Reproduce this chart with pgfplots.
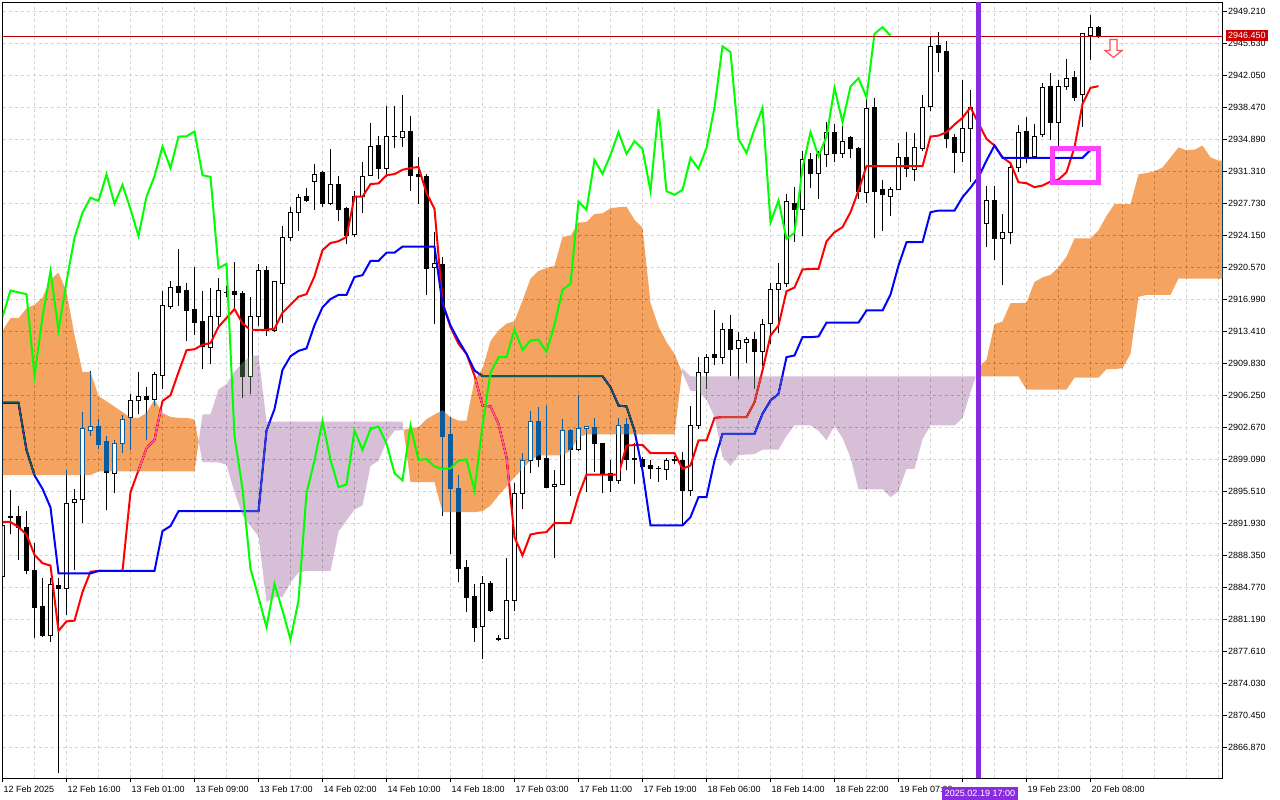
\documentclass[border=0pt]{standalone}
\usepackage{fontspec}
\setmainfont{Liberation Sans}
\usepackage{pgfplots}
\usepackage{pgfplotstable}
\pgfplotsset{compat=1.18}
\definecolor{tenkan}{RGB}{255,0,0}
\definecolor{kijun}{RGB}{0,0,255}
\definecolor{chikou}{RGB}{0,255,0}
\definecolor{cloudA}{RGB}{11,91,159}
\definecolor{cloudB}{RGB}{39,64,39}
\definecolor{gridc}{RGB}{212,212,212}
\definecolor{vline}{RGB}{138,43,226}
\definecolor{pline}{RGB}{192,0,0}
\definecolor{pbox}{RGB}{204,0,0}
\definecolor{boxm}{RGB}{255,64,255}
\definecolor{arrowc}{RGB}{255,80,80}
\newcommand\lbl{\fontsize{9}{10}\selectfont}
\pgfplotsset{candle/.style={only marks, mark=none, mark size=0pt, mark options={draw=none,fill=none}, forget plot,
  error bars/.cd, y dir=plus, y explicit, error mark=none}}

\pgfplotstableread{
x o h l c
0 2885.97 2892.30 2885.50 2891.65
1 2892.60 2895.69 2890.70 2892.70
2 2892.70 2893.92 2887.86 2891.53
3 2891.53 2893.35 2886.24 2886.62
4 2886.62 2889.75 2879.09 2882.57
5 2882.65 2885.86 2879.24 2879.43
6 2879.43 2885.78 2878.67 2885.10
7 2884.99 2885.78 2864.00 2884.61
8 2884.65 2897.96 2881.74 2894.22
9 2894.29 2895.81 2886.73 2894.56
10 2894.56 2904.43 2892.02 2902.54
11 2902.39 2909.04 2901.74 2902.73
12 2902.77 2903.67 2900.23 2900.80
13 2901.10 2901.71 2893.42 2897.62
14 2897.54 2901.29 2895.31 2900.84
15 2900.84 2904.05 2899.85 2903.56
16 2903.75 2906.47 2900.16 2905.64
17 2905.64 2908.93 2904.20 2906.09
18 2906.13 2907.23 2901.22 2905.83
19 2905.83 2908.93 2905.07 2908.55
20 2908.51 2917.89 2906.96 2916.31
21 2916.23 2919.07 2915.97 2918.31
22 2918.42 2922.66 2916.23 2917.82
23 2918.01 2918.80 2912.34 2915.74
24 2915.85 2920.60 2913.00 2914.45
25 2914.52 2917.92 2909.20 2911.72
26 2911.60 2918.31 2909.72 2915.04
27 2915.12 2919.39 2913.92 2918.00
28 2917.75 2918.50 2917.30 2917.79
29 2917.91 2921.19 2915.92 2917.59
30 2917.71 2917.95 2905.93 2908.40
31 2908.40 2917.32 2906.41 2915.04
32 2915.04 2920.91 2914.00 2920.19
33 2920.19 2920.79 2912.92 2913.52
34 2913.52 2919.11 2913.32 2918.99
35 2918.83 2925.19 2914.32 2923.91
36 2923.91 2927.30 2923.50 2926.70
37 2926.70 2928.78 2924.71 2928.38
38 2928.50 2929.50 2927.90 2928.02
39 2930.18 2932.18 2927.02 2930.98
40 2931.18 2931.38 2927.30 2927.70
41 2927.70 2933.78 2927.60 2929.82
42 2929.82 2930.78 2925.79 2927.10
43 2927.18 2927.30 2923.23 2924.11
44 2924.23 2929.10 2924.00 2928.50
45 2928.50 2932.38 2926.70 2930.78
46 2930.90 2936.77 2930.80 2934.10
47 2934.22 2935.30 2930.50 2931.70
48 2931.70 2938.69 2930.70 2935.22
49 2935.18 2938.69 2933.90 2935.25
50 2935.10 2939.89 2934.10 2935.78
51 2935.78 2937.49 2929.18 2930.90
52 2930.98 2932.98 2927.70 2930.70
53 2930.70 2931.00 2917.44 2920.49
54 2920.61 2924.50 2914.27 2920.98
55 2920.87 2921.72 2892.82 2901.70
56 2901.88 2903.82 2888.53 2895.81
57 2895.81 2897.41 2885.36 2886.86
58 2886.97 2887.86 2882.01 2883.69
59 2883.76 2885.18 2878.65 2880.33
60 2880.44 2886.11 2876.79 2885.18
61 2885.18 2885.55 2882.01 2882.19
62 2879.02 2879.47 2878.77 2878.95
63 2879.02 2888.05 2879.00 2883.31
64 2883.31 2896.44 2882.19 2895.32
65 2895.32 2899.80 2893.57 2898.98
66 2898.98 2904.50 2897.56 2903.38
67 2903.38 2904.94 2898.23 2899.05
68 2899.17 2905.02 2896.00 2896.00
69 2896.07 2897.86 2888.05 2896.29
70 2896.29 2903.64 2896.20 2902.33
71 2902.33 2902.52 2895.06 2900.17
72 2900.17 2906.36 2900.09 2902.52
73 2902.52 2902.89 2895.43 2902.78
74 2902.63 2903.75 2897.67 2900.84
75 2900.84 2900.92 2895.32 2897.56
76 2897.56 2898.98 2895.43 2896.74
77 2896.74 2903.75 2896.37 2902.89
78 2903.00 2903.75 2897.86 2899.05
79 2899.17 2900.90 2896.37 2899.13
80 2899.05 2899.35 2897.86 2898.31
81 2898.42 2899.05 2896.93 2898.05
82 2898.05 2898.31 2896.56 2898.09
83 2897.94 2899.24 2896.82 2898.98
84 2899.02 2899.43 2898.61 2899.09
85 2898.98 2899.91 2891.71 2895.62
86 2895.62 2905.02 2895.06 2902.89
87 2902.89 2910.61 2902.52 2908.79
88 2908.79 2910.84 2906.99 2910.54
89 2910.84 2915.76 2909.61 2910.54
90 2910.54 2914.34 2909.79 2913.60
91 2913.60 2915.27 2908.41 2911.36
92 2911.47 2913.34 2908.12 2912.40
93 2912.22 2912.85 2909.87 2912.48
94 2912.48 2913.34 2907.00 2911.17
95 2911.21 2914.83 2909.50 2914.16
96 2914.27 2918.82 2911.96 2918.07
97 2918.07 2921.09 2913.22 2918.74
98 2918.74 2928.81 2918.37 2927.95
99 2927.69 2929.63 2923.40 2927.02
100 2927.02 2933.66 2924.15 2932.61
101 2932.61 2933.36 2929.44 2931.05
102 2931.05 2933.66 2928.25 2933.17
103 2933.17 2936.90 2931.79 2935.71
104 2935.63 2936.64 2932.35 2933.28
105 2933.28 2936.45 2932.84 2934.70
106 2935.07 2935.26 2932.84 2933.84
107 2933.92 2934.03 2928.25 2929.11
108 2928.99 2939.62 2927.76 2938.32
109 2938.43 2939.55 2923.89 2929.11
110 2929.26 2930.37 2924.63 2928.70
111 2928.55 2929.55 2926.38 2929.26
112 2929.26 2934.48 2929.20 2932.84
113 2932.84 2935.78 2930.67 2931.61
114 2931.49 2935.59 2930.23 2933.95
115 2933.92 2939.92 2933.58 2938.50
116 2938.58 2946.52 2938.06 2945.33
117 2945.40 2946.97 2942.42 2944.66
118 2944.73 2945.96 2933.92 2934.96
119 2935.07 2935.50 2931.12 2933.39
120 2933.39 2941.56 2932.43 2936.08
121 2936.12 2940.48 2930.11 2938.43
122 2938.40 2939.80 2924.80 2925.60
123 2925.53 2929.74 2922.84 2928.07
124 2928.07 2929.74 2921.43 2923.78
125 2923.78 2926.57 2918.56 2924.45
126 2924.45 2932.17 2923.22 2931.72
127 2931.72 2936.46 2931.23 2935.71
128 2935.78 2937.46 2932.24 2933.02
129 2933.02 2936.64 2932.91 2935.22
130 2935.41 2941.19 2935.20 2940.67
131 2940.82 2942.31 2934.78 2936.83
132 2936.83 2941.56 2933.66 2940.82
133 2940.82 2943.91 2940.45 2941.75
134 2941.79 2942.50 2939.25 2939.63
135 2939.89 2946.80 2936.34 2946.71
136 2946.52 2948.84 2943.80 2947.46
137 2947.46 2947.64 2946.26 2946.52
}\candles

\pgfplotstableread{
x o c
10 2894.56 2902.54
11 2902.39 2902.73
14 2897.54 2900.84
15 2900.84 2903.56
16 2903.75 2905.64
17 2905.64 2906.09
19 2905.83 2908.55
31 2908.40 2915.04
65 2895.32 2898.98
66 2898.98 2903.38
70 2896.29 2902.33
72 2900.17 2902.52
73 2902.52 2902.78
77 2896.74 2902.89
87 2902.89 2908.79
}\incloud

\pgfplotstableread{
x t k
0 2892.10 2905.45
1 2892.10 2905.45
2 2891.53 2905.45
3 2890.70 2900.16
4 2888.43 2897.32
5 2887.49 2895.81
6 2887.22 2893.73
7 2879.92 2886.35
8 2880.98 2886.35
9 2881.06 2886.35
10 2884.27 2886.35
11 2886.54 2886.35
12 2886.62 2886.62
13 2886.62 2886.62
14 2886.62 2886.62
15 2886.62 2886.62
16 2895.43 2886.62
17 2897.89 2886.62
18 2900.35 2886.62
19 2901.29 2886.62
20 2905.64 2891.08
21 2906.28 2891.65
22 2908.86 2893.30
23 2911.31 2893.30
24 2911.43 2893.30
25 2911.92 2893.30
26 2912.12 2893.30
27 2913.92 2893.30
28 2914.92 2893.30
29 2915.92 2893.30
30 2914.32 2893.30
31 2913.60 2893.30
32 2913.60 2893.30
33 2913.60 2902.33
34 2913.72 2904.73
35 2915.52 2909.12
36 2916.40 2910.64
37 2917.31 2911.24
38 2917.59 2911.52
39 2919.59 2914.12
40 2922.51 2916.12
41 2923.31 2917.04
42 2923.51 2917.51
43 2923.99 2917.51
44 2928.50 2919.51
45 2928.50 2919.71
46 2929.90 2921.31
47 2929.98 2921.31
48 2930.90 2922.23
49 2931.02 2922.23
50 2931.50 2922.91
51 2931.70 2922.91
52 2931.82 2922.91
53 2928.90 2922.91
54 2927.13 2922.91
55 2916.69 2916.50
56 2913.89 2914.08
57 2912.03 2912.40
58 2910.91 2910.91
59 2908.49 2909.05
60 2905.13 2908.41
61 2905.02 2908.41
62 2903.08 2908.41
63 2899.35 2908.41
64 2890.40 2908.41
65 2888.35 2908.41
66 2890.70 2908.41
67 2890.88 2908.41
68 2890.96 2908.41
69 2891.97 2908.41
70 2891.97 2908.41
71 2891.97 2908.41
72 2895.06 2908.41
73 2897.41 2908.41
74 2897.41 2908.41
75 2897.41 2908.41
76 2897.41 2907.18
77 2897.41 2905.13
78 2900.65 2905.02
79 2900.70 2902.30
80 2900.73 2897.86
81 2899.80 2891.71
82 2899.80 2891.71
83 2899.80 2891.71
84 2899.80 2891.71
85 2898.05 2891.71
86 2898.42 2892.64
87 2901.22 2894.88
88 2901.22 2894.88
89 2903.75 2898.98
90 2903.83 2901.96
91 2903.83 2901.96
92 2903.83 2901.96
93 2903.83 2901.96
94 2905.50 2901.96
95 2909.05 2904.20
96 2912.96 2905.69
97 2914.08 2906.44
98 2917.92 2910.54
99 2918.33 2910.73
100 2920.36 2912.78
101 2920.40 2912.78
102 2920.42 2912.85
103 2923.50 2914.40
104 2924.52 2914.40
105 2925.08 2914.40
106 2926.76 2914.40
107 2929.18 2914.40
108 2931.90 2915.76
109 2931.90 2915.76
110 2931.90 2915.76
111 2931.90 2917.55
112 2931.90 2920.79
113 2931.90 2923.40
114 2931.90 2923.40
115 2931.90 2923.40
116 2935.22 2926.76
117 2935.33 2926.94
118 2935.71 2926.94
119 2936.57 2926.94
120 2937.31 2928.44
121 2938.50 2929.50
122 2936.70 2930.68
123 2934.96 2932.54
124 2934.22 2934.22
125 2932.91 2932.84
126 2932.24 2932.84
127 2930.11 2932.84
128 2930.00 2932.84
129 2929.56 2932.84
130 2929.74 2932.84
131 2930.19 2932.84
132 2930.41 2932.84
133 2931.23 2932.84
134 2934.03 2932.84
135 2938.88 2932.84
136 2940.67 2933.73
137 2940.86 2933.73
}\tkdata

\pgfplotstableread{
x g
0 2915.04
1 2918.00
2 2917.79
3 2917.59
4 2908.40
5 2915.04
6 2920.19
7 2913.52
8 2918.99
9 2923.91
10 2926.70
11 2928.38
12 2928.02
13 2930.98
14 2927.70
15 2929.82
16 2927.10
17 2924.11
18 2928.50
19 2930.78
20 2934.10
21 2931.70
22 2935.22
23 2935.25
24 2935.78
25 2930.90
26 2930.70
27 2920.49
28 2920.98
29 2901.70
30 2895.81
31 2886.86
32 2883.69
33 2880.33
34 2885.18
35 2882.19
36 2878.95
37 2883.31
38 2895.32
39 2898.98
40 2903.38
41 2899.05
42 2896.00
43 2896.29
44 2902.33
45 2900.17
46 2902.52
47 2902.78
48 2900.84
49 2897.56
50 2896.74
51 2902.89
52 2899.05
53 2899.13
54 2898.31
55 2898.05
56 2898.09
57 2898.98
58 2899.09
59 2895.62
60 2902.89
61 2908.79
62 2910.54
63 2910.54
64 2913.60
65 2911.36
66 2912.40
67 2912.48
68 2911.17
69 2914.16
70 2918.07
71 2918.74
72 2927.95
73 2927.02
74 2932.61
75 2931.05
76 2933.17
77 2935.71
78 2933.28
79 2934.70
80 2933.84
81 2929.11
82 2938.32
83 2929.11
84 2928.70
85 2929.26
86 2932.84
87 2931.61
88 2933.95
89 2938.50
90 2945.33
91 2944.66
92 2934.96
93 2933.39
94 2936.08
95 2938.43
96 2925.60
97 2928.07
98 2923.78
99 2924.45
100 2931.72
101 2935.71
102 2933.02
103 2935.22
104 2940.67
105 2936.83
106 2940.82
107 2941.75
108 2939.63
109 2946.71
110 2947.46
111 2946.52
}\chikoudata

% cloud polygons: upper edge left to right, then lower edge right to left
\pgfplotstableread{
x y
0 2913.50
1 2914.90
2 2914.90
3 2916.00
4 2916.40
5 2917.20
6 2919.20
7 2920.00
8 2917.90
9 2913.00
10 2908.90
11 2908.90
12 2906.20
13 2905.60
14 2905.00
15 2904.40
16 2903.75
17 2903.75
18 2904.30
19 2905.80
20 2904.30
21 2903.86
22 2903.75
23 2903.75
24 2903.56
24.52 2901.08
24 2897.75
12 2897.75
11 2897.35
0 2897.35
}\cloudone

\pgfplotstableread{
x y
24.52 2901.08
25 2904.13
26 2904.13
27 2906.93
28 2907.52
29 2908.92
30 2909.92
31 2910.72
32 2910.72
33 2903.33
50 2903.33
50.14 2902.39
50 2902.37
49 2902.31
48 2901.08
47 2898.97
46 2898.36
45 2893.96
44 2893.49
43 2892.26
42 2891.03
41 2886.62
38 2886.62
37 2886.45
36 2885.31
35 2883.71
34 2883.67
33 2883.14
32 2890.48
31 2891.65
30 2892.88
29 2895.43
28 2898.49
27 2898.78
26 2898.78
25 2898.80
}\cloudtwo

\pgfplotstableread{
x y
50.14 2902.39
51 2902.61
52 2902.71
53 2903.61
54 2904.11
55 2904.61
56 2903.81
57 2903.45
58 2903.45
59 2907.97
60 2909.23
61 2912.32
62 2913.52
63 2914.28
64 2914.56
65 2916.86
66 2919.32
67 2920.18
68 2920.51
69 2920.75
70 2924.01
71 2924.11
72 2925.61
73 2925.65
74 2926.57
75 2926.63
76 2927.21
77 2927.31
78 2927.37
79 2925.91
80 2925.02
81 2916.60
82 2913.99
83 2912.22
84 2910.91
84.94 2908.88
84 2901.90
73 2901.90
72 2901.59
71 2900.09
70 2899.54
67 2899.54
66 2898.98
65 2898.04
64 2897.11
63 2896.07
62 2895.06
61 2893.94
60 2893.31
59 2893.20
55 2893.20
54 2896.55
51 2896.55
}\cloudthree

\pgfplotstableread{
x y
84.94 2908.88
85 2909.30
86 2908.38
121 2908.38
121.65 2908.38
121 2906.63
120 2903.73
119 2902.90
116 2902.90
115 2901.37
114 2898.05
113 2898.05
112 2895.53
111 2894.88
110 2895.76
107 2895.76
106 2899.30
105 2901.50
104 2902.84
103 2901.27
102 2902.30
101 2902.91
99 2902.91
98 2901.74
97 2900.19
95 2900.19
94 2899.69
93 2899.65
92 2899.56
91 2898.38
90 2899.41
89 2903.88
88 2905.75
87 2906.72
86 2906.77
85 2908.77
}\cloudfour

\pgfplotstableread{
x y
121.65 2908.38
122 2909.33
123 2910.26
124 2914.23
125 2914.53
126 2916.57
127 2916.59
128 2916.64
129 2918.95
130 2919.46
131 2919.74
132 2920.58
133 2921.79
134 2923.83
136 2923.83
137 2924.73
138 2926.35
139 2927.65
141 2927.65
142 2930.99
143 2931.14
144 2931.33
145 2931.76
146 2932.88
147 2934.00
148 2933.69
149 2933.75
150 2934.22
151 2932.88
152 2932.54
153 2932.50
153 2919.34
147 2919.34
146 2917.51
143 2917.51
142 2917.29
141 2910.90
140 2909.30
139 2909.20
138 2909.20
137 2908.25
134 2908.25
133 2906.90
128 2906.90
127 2908.38
122 2908.38
}\cloudfive

\begin{document}
\begin{tikzpicture}[x=1pt,y=1pt]
\fill[white] (0,0) rectangle (1280,800);
\begin{axis}[
  at={(2.5pt,21.5pt)}, anchor=south west,
  scale only axis, width=1220pt, height=776pt,
  xmin=0, xmax=152.5, ymin=2863.40, ymax=2950.22,
  axis line style={line width=1pt, black},
  xtick={0,8,...,136},
  xticklabels={12 Feb 2025,12 Feb 16:00,13 Feb 01:00,13 Feb 09:00,13 Feb 17:00,14 Feb 02:00,14 Feb 10:00,14 Feb 18:00,17 Feb 03:00,17 Feb 11:00,17 Feb 19:00,18 Feb 06:00,18 Feb 14:00,18 Feb 22:00,19 Feb 07:00,{},19 Feb 23:00,20 Feb 08:00},
  minor xtick={4,12,...,148,144,152},
  ytick={2866.87,2870.45,2874.03,2877.61,2881.19,2884.77,2888.35,2891.93,2895.51,2899.09,2902.67,2906.25,2909.83,2913.41,2916.99,2920.57,2924.15,2927.73,2931.31,2934.89,2938.47,2942.05,2945.63,2949.21},
  yticklabels={2866.870,2870.450,2874.030,2877.610,2881.190,2884.770,2888.350,2891.930,2895.510,2899.090,2902.670,2906.250,2909.830,2913.410,2916.990,2920.570,2924.150,2927.730,2931.310,2934.890,2938.470,2942.050,2945.630,2949.210},
  grid=both,
  major grid style={gridc, dash pattern=on 3pt off 3pt, line width=1pt},
  minor grid style={gridc, dash pattern=on 3pt off 3pt, line width=1pt},
  tick align=outside, major tick length=4pt, minor tick length=0pt,
  tick style={black, line width=1pt},
  xtick pos=left, ytick pos=right, yticklabel pos=right,
  xticklabel style={font=\lbl, anchor=north west, inner sep=0pt, xshift=1pt, yshift=-3pt},
  yticklabel style={font=\lbl, anchor=west, inner sep=0pt, xshift=1.5pt},
]
% candles: wicks, bodies, white interiors
\addplot[candle, error bar style={line width=1pt, black}]
  table[x=x, y=l, y error expr=\thisrow{h}-\thisrow{l}] {\candles};
\addplot[candle, error bar style={line width=5pt, black}]
  table[x=x, y expr={min(\thisrow{o},\thisrow{c})-0.056}, y error expr={abs(\thisrow{c}-\thisrow{o})+0.112}] {\candles};
\addplot[candle, error bar style={line width=3pt, white}]
  table[x=x, y expr={\thisrow{o}+0.056}, y error expr={max(\thisrow{c}-\thisrow{o}-0.112,0)}] {\candles};
% tenkan and kijun
\addplot[tenkan, line width=2pt, mark=none] table[x=x, y=t] {\tkdata};
\addplot[kijun, line width=2pt, mark=none] table[x=x, y=k] {\tkdata};
% cloud (senkou span A / B), blended like the terminal draws it
\addplot[fill=cloudA, draw=none, mark=none, blend mode=difference] table[x=x, y=y] {\cloudone} -- cycle;
\addplot[fill=cloudB, draw=none, mark=none, blend mode=difference] table[x=x, y=y] {\cloudtwo} -- cycle;
\addplot[fill=cloudA, draw=none, mark=none, blend mode=difference] table[x=x, y=y] {\cloudthree} -- cycle;
\addplot[fill=cloudB, draw=none, mark=none, blend mode=difference] table[x=x, y=y] {\cloudfour} -- cycle;
\addplot[fill=cloudA, draw=none, mark=none, blend mode=difference] table[x=x, y=y] {\cloudfive} -- cycle;
% white interiors of bullish candles lying in the cloud
\addplot[candle, error bar style={line width=3pt, white}]
  table[x=x, y expr={\thisrow{o}+0.056}, y error expr={max(\thisrow{c}-\thisrow{o}-0.112,0)}] {\incloud};
% chikou
\addplot[chikou, line width=2pt, mark=none] table[x=x, y=g] {\chikoudata};
% current price line and vertical marker
\addplot[pline, line width=1pt, mark=none] coordinates {(0,2946.45) (152.5,2946.45)};
\addplot[vline, line width=5pt, mark=none] coordinates {(122,2863.40) (122,2950.22)};
\end{axis}
% annotations
\draw[boxm, line width=5pt] (1052,651.3) rectangle (1098,617);
\draw[arrowc, fill=white, line width=1.2pt] (1110,760.5) -- (1117,760.5) -- (1117,749.5) -- (1122,749.5) -- (1113.5,742.5) -- (1105,749.5) -- (1110,749.5) -- cycle;
\node[fill=pbox, text=white, font=\lbl, inner xsep=2.5pt, inner ysep=0pt, minimum height=11pt, anchor=west] at (1225.5,764.5) {2946.450};
\node[fill=vline, text=white, font=\lbl, inner xsep=3pt, inner ysep=0pt, minimum height=13pt] at (980,6.5) {2025.02.19 17:00};
\pgfresetboundingbox
\path[use as bounding box] (0,0) rectangle (1280,800);
\end{tikzpicture}
\end{document}
